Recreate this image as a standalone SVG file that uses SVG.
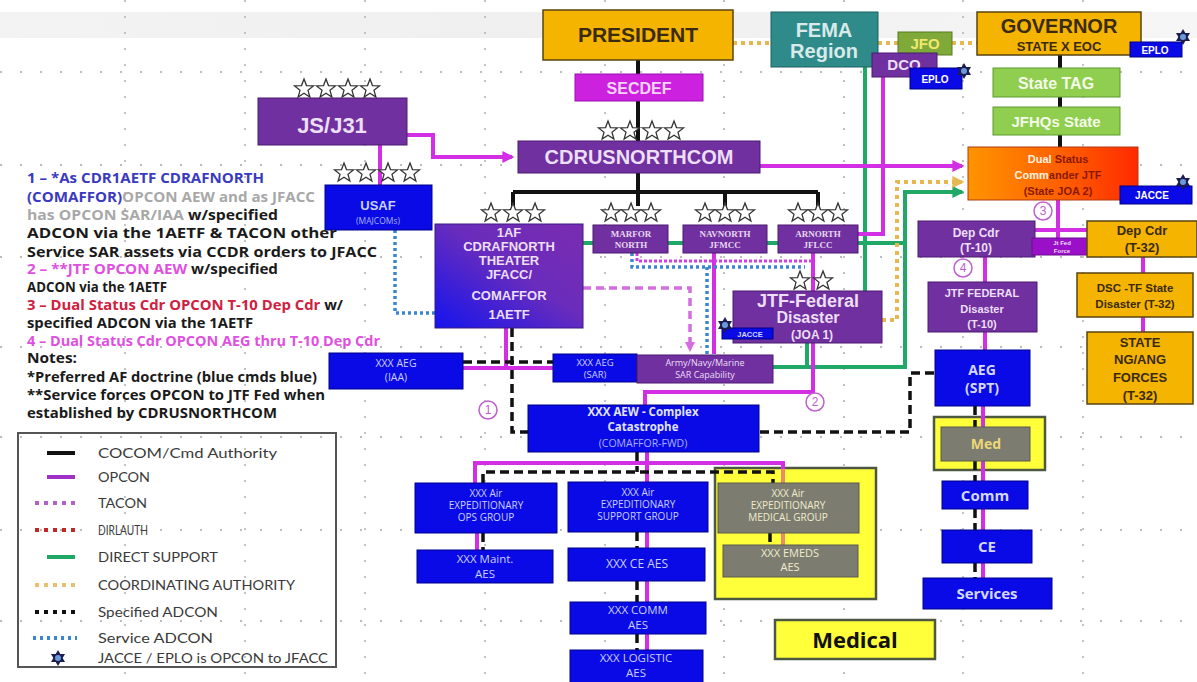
<svg xmlns="http://www.w3.org/2000/svg" xmlns:xlink="http://www.w3.org/1999/xlink" width="1197" height="682" viewBox="0 0 1197 682">
<defs>
<style>
.pu{fill:#7030a0;stroke:#4a1a70;stroke-width:1}
.bl{fill:#0a0ae6;stroke:#00008a;stroke-width:1}
.go{fill:#f5b400;stroke:#5a4410;stroke-width:1.5}
.lg{fill:#8fce4e;stroke:#5f9a2c;stroke-width:1}
.gy{fill:#7c7c70;stroke:#5a5a50;stroke-width:1}
.yl{fill:#ffff3a;stroke:#4d5840;stroke-width:2.5}
.t{font-family:"Liberation Sans",Arial,sans-serif;font-weight:bold;text-anchor:middle}
.o{font-family:"Open Sans","Liberation Sans",sans-serif;text-anchor:middle}
.s{font-family:"Liberation Serif","Times New Roman",serif;font-weight:bold;text-anchor:middle;fill:#e8d8f2}
.w{fill:#ecdff6}
.dk{fill:#3a2a10}
.k{stroke:#111;stroke-width:4;fill:none}
.m{stroke:#d22ee4;stroke-width:4;fill:none}
.g{stroke:#1fa866;stroke-width:4;fill:none}
.kd{stroke:#111;stroke-width:3.5;stroke-dasharray:9 5;fill:none}
.od{stroke:#e8b850;stroke-width:4;stroke-dasharray:4 4;fill:none}
.bd{stroke:#3a86d0;stroke-width:3.5;stroke-dasharray:3 3;fill:none}
.md{stroke:#d46ee0;stroke-width:3.5;stroke-dasharray:8 5;fill:none}
.grid{stroke:#bdbdbd;stroke-width:1.8;fill:none}
.note{font-family:"Open Sans","Liberation Sans",sans-serif;font-weight:bold;font-size:13.5px}
.leg{font-family:Lato,"Open Sans",sans-serif;font-size:14px;fill:#3a3a3a}
.num{fill:#fff;stroke:#c060d0;stroke-width:1.5}
.numt{font-family:"Liberation Sans",Arial,sans-serif;font-size:12px;fill:#c060d0;text-anchor:middle}
</style>
<linearGradient id="band" x1="0" y1="0" x2="1" y2="0"><stop offset="0" stop-color="#f3f3f3"/><stop offset="0.5" stop-color="#efefef"/><stop offset="1" stop-color="#f6f6f6"/></linearGradient>
<linearGradient id="g1af" x1="1" y1="0" x2="0" y2="1"><stop offset="0" stop-color="#7a2cb0"/><stop offset="0.45" stop-color="#6a2cbc"/><stop offset="1" stop-color="#1414ee"/></linearGradient>
<linearGradient id="gds" x1="0" y1="0" x2="1" y2="0"><stop offset="0" stop-color="#ff9400"/><stop offset="0.6" stop-color="#ff5a00"/><stop offset="1" stop-color="#ff2a00"/></linearGradient>
<g id="star"><polygon points="0,-10 2.47,-3.4 9.51,-3.09 3.99,1.3 5.88,8.09 0,4.2 -5.88,8.09 -3.99,1.3 -9.51,-3.09 -2.47,-3.4" fill="#fff" stroke="#333" stroke-width="1.3"/></g>
<g id="jstar"><polygon points="0,-8 7,4 -7,4" fill="#1c1c50"/><polygon points="0,8 7,-4 -7,-4" fill="#1c1c50"/><circle r="3" fill="#6a9ad8"/></g>
<marker id="am" viewBox="0 0 10 10" refX="8" refY="5" markerWidth="3" markerHeight="3" orient="auto"><path d="M0,0 L10,5 L0,10 z" fill="#d22ee4"/></marker>
<marker id="ag" viewBox="0 0 10 10" refX="8" refY="5" markerWidth="3" markerHeight="3" orient="auto"><path d="M0,0 L10,5 L0,10 z" fill="#1fa866"/></marker>
<marker id="ao" viewBox="0 0 10 10" refX="8" refY="5" markerWidth="3" markerHeight="3" orient="auto"><path d="M0,0 L10,5 L0,10 z" fill="#e8b850"/></marker>
<marker id="amd" viewBox="0 0 10 10" refX="8" refY="5" markerWidth="3" markerHeight="3" orient="auto"><path d="M0,0 L10,5 L0,10 z" fill="#d46ee0"/></marker>
</defs>

<rect width="1197" height="682" fill="#fff"/>
<rect x="0" y="12" width="1197" height="26" fill="url(#band)"/>

<g id="grid">
<path class="grid" stroke-dasharray="2 18" d="M0,72H1197 M0,165H1197 M0,257H1197 M0,347H1197 M0,437H1197 M0,530H1197 M0,621H1197"/>
<path class="grid" stroke-dasharray="2 14" d="M125,0V682 M245,0V682 M365,0V682 M485,0V682 M605,0V682 M724,0V682 M844,0V682 M963,0V682 M1083,0V682"/>
</g>

<g id="containers">
<rect id="medgroup-frame" x="715" y="468" width="161" height="131" class="yl"/>
<rect id="med-frame" x="934" y="417" width="111" height="53" class="yl"/>
</g>

<g id="connectors">
<path class="k" d="M638,60V74 M638,101V141 M638,173V192 M513,192H818 M513,192V206 M638,192V206 M725,192V206 M818,192V206"/>
<path class="k" d="M1060,55V68 M1060,97V107 M1060,135V147"/>
<path class="g" d="M865,67V291"/>
<path class="g" d="M582,243H905"/>
<path class="g" d="M773,367H905V192H962" marker-end="url(#ag)"/>
<path class="g" d="M807,343V367"/>
<path class="od" d="M733,43H771 M878,43H898 M952,43H977"/>
<path class="od" d="M882,320H897V182H962" marker-end="url(#ao)"/>
<path class="m" d="M407,135H433V157H512" marker-end="url(#am)"/>
<path class="m" d="M380,145V185"/>
<path class="m" d="M760,166H962" marker-end="url(#am)"/>
<path class="m" d="M883,77V234H858"/>
<path class="m" d="M813,253V291 M813,343V392H645V405"/>
<path class="m" d="M714,253V354"/>
<path d="M637,253V261H813" stroke="#d040e0" stroke-width="3" stroke-dasharray="3 2" fill="none"/>
<path class="bd" stroke-width="3" d="M632,253V267H805 M707,267V354"/>
<path class="m" d="M506,328V368 M463,368H553"/>
<path class="m" d="M1058,200V238 M1035,230H1087"/>
<path class="m" d="M985,257V282 M985,332V350 M983,406V578"/>
<path class="m" d="M1143,257V273 M1143,317V332"/>
<path class="m" d="M647,452V650"/>
<path class="m" d="M475,483V463H783V469 M477,533V550"/>
<path stroke="#ec8a6a" stroke-width="4" fill="none" d="M783,469V483 M783,533V545"/>
<path class="md" d="M583,288H690V350" marker-end="url(#amd)"/>
<path class="bd" d="M395,230V313H435"/>
<path class="kd" d="M512,328V432H528"/>
<path class="kd" d="M463,362H553"/>
<path class="kd" d="M760,432H910V373H935"/>
<path class="kd" d="M637,452V472 M483,483V472H773V483"/>
<path class="kd" d="M483,533V550 M637,532V548 M637,581V602 M637,634V650 M770,533V545"/>
<path class="kd" d="M975,406V427 M975,461V481 M975,509V530 M975,563V578"/>
</g>

<g id="president"><rect x="543" y="10" width="190" height="50" class="go"/><text x="638" y="42" class="t dk" font-size="21">PRESIDENT</text></g>
<g id="secdef"><rect x="575" y="74" width="128" height="27" fill="#cc22e0" stroke="#9a10b0"/><text x="639" y="94" class="t" font-size="16" fill="#f4d4f8">SECDEF</text></g>
<g id="cdrusnorthcom"><rect x="518" y="141" width="242" height="32" class="pu"/><text x="639" y="164" class="t w" font-size="20">CDRUSNORTHCOM</text>
<use href="#star" x="608" y="131"/><use href="#star" x="630" y="131"/><use href="#star" x="652" y="131"/><use href="#star" x="674" y="131"/></g>
<g id="jsj31"><rect x="258" y="98" width="149" height="47" class="pu"/><text x="332" y="133" class="t w" font-size="22">JS/J31</text>
<use href="#star" x="304" y="89"/><use href="#star" x="326" y="89"/><use href="#star" x="348" y="89"/><use href="#star" x="370" y="89"/></g>
<g id="fema"><rect x="771" y="12" width="107" height="55" fill="#2f8a8a" stroke="#1e6060"/><text x="824" y="37" class="t" font-weight="normal" font-size="20" fill="#d8eaea">FEMA</text><text x="824" y="58" class="t" font-weight="normal" font-size="20" fill="#d8eaea">Region</text></g>
<g id="jfo"><rect x="898" y="32" width="54" height="23" fill="#7faa3a" stroke="#5a7a20"/><text x="925" y="49" class="t" font-weight="normal" font-size="15" fill="#f0e870">JFO</text></g>
<g id="dco"><rect x="872" y="53" width="65" height="24" class="pu"/><text x="904" y="70" class="t w" font-weight="normal" font-size="15">DCO</text></g>
<g id="eplo1"><rect x="910" y="68" width="52" height="21" class="bl"/><text x="935" y="83" class="t" font-size="10" fill="#fff">EPLO</text><use href="#jstar" x="964" y="71"/></g>
<g id="governor"><rect x="977" y="12" width="164" height="43" class="go"/><text x="1059" y="33" class="t dk" font-size="20">GOVERNOR</text><text x="1059" y="51" class="t dk" font-size="13">STATE X EOC</text></g>
<g id="eplo2"><rect x="1130" y="42" width="52" height="15" class="bl"/><text x="1155" y="54" class="t" font-size="10" fill="#fff">EPLO</text><use href="#jstar" x="1183" y="37"/></g>
<g id="statetag"><rect x="993" y="68" width="127" height="29" class="lg"/><text x="1056" y="89" class="t" font-size="16" fill="#f4fbe8">State TAG</text></g>
<g id="jfhqs"><rect x="993" y="107" width="127" height="28" class="lg"/><text x="1056" y="127" class="t" font-size="15" fill="#f4fbe8">JFHQs State</text></g>
<g id="dualstatus"><rect x="968" y="147" width="170" height="53" fill="url(#gds)" stroke="#b03a10"/>
<text x="1058" y="163" class="t" font-size="11"><tspan fill="#fff2e0">Dual </tspan><tspan fill="#8a1800">Status</tspan></text>
<text x="1058" y="179" class="t" font-size="11"><tspan fill="#fff2e0">Comm</tspan><tspan fill="#8a1800">ander JTF</tspan></text>
<text x="1058" y="195" class="t" font-size="11" fill="#8a1800">(State JOA 2)</text></g>
<g id="jacce1"><rect x="1120" y="186" width="72" height="18" class="bl"/><text x="1152" y="199" class="t" font-size="10" fill="#fff">JACCE</text><use href="#jstar" x="1183" y="182"/></g>
<g id="depcdr10"><rect x="918" y="221" width="117" height="36" class="pu"/><text x="976" y="237" class="t w" font-size="12">Dep Cdr</text><text x="976" y="252" class="t w" font-size="12">(T-10)</text></g>
<g id="jtfedforce"><rect x="1032" y="238" width="61" height="17" fill="#9a10c8" stroke="#6a0a90"/><text x="1062" y="245" class="t w" font-size="6">Jt Fed</text><text x="1062" y="253" class="t w" font-size="6">Force</text></g>
<g id="depcdr32"><rect x="1087" y="221" width="110" height="36" class="go"/><text x="1142" y="235" class="t dk" font-size="13">Dep Cdr</text><text x="1142" y="252" class="t dk" font-size="13">(T-32)</text></g>
<g id="jtffed10"><rect x="928" y="282" width="109" height="50" class="pu"/><text x="982" y="297" class="t w" font-size="11">JTF  FEDERAL</text><text x="982" y="313" class="t w" font-size="11">Disaster</text><text x="982" y="328" class="t w" font-size="11">(T-10)</text></g>
<g id="dsctf"><rect x="1077" y="273" width="116" height="44" class="go"/><text x="1135" y="292" class="t dk" font-size="11.5">DSC -TF State</text><text x="1135" y="308" class="t dk" font-size="11.5">Disaster  (T-32)</text></g>
<g id="stateng"><rect x="1087" y="332" width="106" height="72" class="go"/><text x="1140" y="347" class="t dk" font-size="13">STATE</text><text x="1140" y="364" class="t dk" font-size="13">NG/ANG</text><text x="1140" y="382" class="t dk" font-size="13">FORCES</text><text x="1140" y="400" class="t dk" font-size="13">(T-32)</text></g>
<g id="aegspt"><rect x="935" y="350" width="95" height="56" class="bl"/><text x="982" y="375" class="o" font-weight="bold" font-size="14" fill="#d4d8ff">AEG</text><text x="982" y="393" class="o" font-weight="bold" font-size="14" fill="#d4d8ff">(SPT)</text></g>
<g id="med"><rect x="941" y="427" width="89" height="34" class="gy"/><text x="986" y="449" class="o" font-weight="bold" font-size="14" fill="#ecd878">Med</text></g>
<g id="comm"><rect x="942" y="481" width="86" height="28" class="bl"/><text x="985" y="501" class="o" font-weight="bold" font-size="15" fill="#d4d8ff">Comm</text></g>
<g id="ce"><rect x="942" y="530" width="90" height="33" class="bl"/><text x="987" y="552" class="o" font-weight="bold" font-size="15" fill="#d4d8ff">CE</text></g>
<g id="services"><rect x="923" y="578" width="129" height="31" class="bl"/><text x="987" y="599" class="o" font-weight="bold" font-size="15" fill="#d4d8ff">Services</text></g>
<g id="medical"><rect x="775" y="620" width="160" height="39" fill="#ffff3a" stroke="#4d5840" stroke-width="2.5"/><text x="855" y="648" class="o" font-weight="bold" font-size="22" fill="#111">Medical</text></g>

<g id="usaf"><rect x="325" y="185" width="107" height="45" class="bl"/><text x="378" y="210" class="t" font-size="13" fill="#c8d4ff">USAF</text><text x="378" y="224" class="o" font-size="8.5" fill="#a8b4ff">(MAJCOMs)</text>
<use href="#star" x="344" y="173"/><use href="#star" x="366" y="173"/><use href="#star" x="388" y="173"/><use href="#star" x="410" y="173"/></g>
<g id="af1"><rect x="435" y="224" width="148" height="104" fill="url(#g1af)" stroke="#3a1a80"/>
<text x="509" y="237" class="t w" font-size="13">1AF</text><text x="509" y="251" class="t w" font-size="13">CDRAFNORTH</text>
<text x="509" y="265" class="t w" font-size="13">THEATER</text><text x="509" y="279" class="t w" font-size="13">JFACC/</text>
<text x="509" y="300" class="t w" font-size="13">COMAFFOR</text><text x="509" y="319" class="t w" font-size="13">1AETF</text>
<use href="#star" x="491" y="213"/><use href="#star" x="513" y="213"/><use href="#star" x="535" y="213"/></g>
<g id="marfor"><rect x="593" y="225" width="75" height="28" class="pu"/><text x="631" y="237" class="s" font-size="9">MARFOR</text><text x="631" y="248" class="s" font-size="9">NORTH</text>
<use href="#star" x="611" y="213"/><use href="#star" x="631" y="213"/><use href="#star" x="651" y="213"/></g>
<g id="navnorth"><rect x="683" y="225" width="84" height="28" class="pu"/><text x="725" y="237" class="s" font-size="9">NAVNORTH</text><text x="725" y="248" class="s" font-size="9">JFMCC</text>
<use href="#star" x="705" y="213"/><use href="#star" x="725" y="213"/><use href="#star" x="745" y="213"/></g>
<g id="arnorth"><rect x="778" y="225" width="80" height="28" class="pu"/><text x="818" y="237" class="s" font-size="9">ARNORTH</text><text x="818" y="248" class="s" font-size="9">JFLCC</text>
<use href="#star" x="798" y="213"/><use href="#star" x="818" y="213"/><use href="#star" x="838" y="213"/></g>
<g id="jtffederal"><rect x="733" y="291" width="149" height="52" class="pu"/><text x="808" y="307" class="t w" font-size="18">JTF-Federal</text><text x="808" y="323" class="t w" font-weight="normal" font-size="16">Disaster</text><text x="812" y="339" class="t w" font-size="12">(JOA 1)</text>
<use href="#star" x="800" y="281"/><use href="#star" x="823" y="281"/>
<rect x="722" y="328" width="51" height="11" class="bl"/><text x="750" y="337" class="t" font-size="7.5" fill="#d4d8ff">JACCE</text><use href="#jstar" x="725" y="325"/></g>
<g id="aegiaa"><rect x="329" y="353" width="134" height="36" class="bl"/><text x="396" y="367" class="o" font-size="10.5" fill="#c8d0ff">XXX AEG</text><text x="396" y="381" class="o" font-size="10.5" fill="#c8d0ff">(IAA)</text></g>
<g id="aegsar"><rect x="553" y="354" width="84" height="28" class="bl"/><text x="595" y="366" class="o" font-size="9.5" fill="#c8d0ff">XXX AEG</text><text x="595" y="378" class="o" font-size="9.5" fill="#c8d0ff">(SAR)</text></g>
<g id="sarcap"><rect x="637" y="355" width="136" height="28" class="pu"/><text x="705" y="366" class="o w" font-size="9">Army/Navy/Marine</text><text x="705" y="378" class="o w" font-size="9">SAR Capability</text></g>
<g id="aew"><rect x="528" y="405" width="231" height="47" class="bl"/><text x="643" y="416" class="o" font-weight="bold" font-size="11.5" fill="#e0e4ff">XXX AEW - Complex</text><text x="643" y="431" class="o" font-weight="bold" font-size="11.5" fill="#e0e4ff">Catastrophe</text><text x="643" y="447" class="o" font-size="10.5" fill="#a8b0ff">(COMAFFOR-FWD)</text></g>
<g id="opsgroup"><rect x="415" y="483" width="142" height="50" class="bl"/><text x="486" y="497" class="o" font-size="10" fill="#c8d0ff">XXX Air</text><text x="486" y="509" class="o" font-size="10" fill="#c8d0ff">EXPEDITIONARY</text><text x="486" y="521" class="o" font-size="10" fill="#c8d0ff">OPS GROUP</text></g>
<g id="supportgroup"><rect x="568" y="482" width="140" height="50" class="bl"/><text x="638" y="496" class="o" font-size="10" fill="#c8d0ff">XXX Air</text><text x="638" y="508" class="o" font-size="10" fill="#c8d0ff">EXPEDITIONARY</text><text x="638" y="520" class="o" font-size="10" fill="#c8d0ff">SUPPORT GROUP</text></g>
<g id="maintaes"><rect x="417" y="550" width="136" height="33" class="bl"/><text x="485" y="563" class="o" font-size="11.5" fill="#c8d0ff">XXX  Maint.</text><text x="485" y="578" class="o" font-size="11.5" fill="#c8d0ff">AES</text></g>
<g id="ceaes"><rect x="568" y="548" width="137" height="33" class="bl"/><text x="637" y="568" class="o" font-size="12" fill="#c8d0ff">XXX CE  AES</text></g>
<g id="commaes"><rect x="570" y="602" width="136" height="32" class="bl"/><text x="638" y="614" class="o" font-size="11.5" fill="#c8d0ff">XXX COMM</text><text x="638" y="629" class="o" font-size="11.5" fill="#c8d0ff">AES</text></g>
<g id="logaes"><rect x="570" y="650" width="133" height="34" class="bl"/><text x="636" y="662" class="o" font-size="11.5" fill="#c8d0ff">XXX LOGISTIC</text><text x="636" y="677" class="o" font-size="11.5" fill="#c8d0ff">AES</text></g>
<g id="medgroup"><rect x="718" y="483" width="141" height="50" class="gy"/><text x="788" y="497" class="o" font-size="10" fill="#f0eccc">XXX  Air</text><text x="788" y="509" class="o" font-size="10" fill="#f0eccc">EXPEDITIONARY</text><text x="788" y="521" class="o" font-size="10" fill="#f0eccc">MEDICAL GROUP</text></g>
<g id="emeds"><rect x="723" y="545" width="135" height="32" class="gy"/><text x="790" y="557" class="o" font-size="11" fill="#f0eccc">XXX EMEDS</text><text x="790" y="571" class="o" font-size="11" fill="#f0eccc">AES</text></g>

<g id="markers-num">
<circle cx="488" cy="410" r="9" class="num"/><text x="488" y="414" class="numt">1</text>
<circle cx="815" cy="402" r="9" class="num"/><text x="815" y="406" class="numt">2</text>
<circle cx="1043" cy="211" r="9" class="num"/><text x="1043" y="215" class="numt">3</text>
<circle cx="963" cy="268" r="9" class="num"/><text x="963" y="272" class="numt">4</text>
</g>

<g id="notes">
<text x="27" y="183" class="note" fill="#3a3ac0" textLength="237" lengthAdjust="spacingAndGlyphs">1 – *As CDR1AETF CDRAFNORTH</text>
<text x="27" y="202" class="note" textLength="288" lengthAdjust="spacingAndGlyphs"><tspan fill="#3a3ac0">(COMAFFOR)</tspan><tspan fill="#a8a8a8">OPCON AEW and as JFACC</tspan></text>
<text x="27" y="220" class="note" textLength="251" lengthAdjust="spacingAndGlyphs"><tspan fill="#a8a8a8">has OPCON SAR/IAA</tspan><tspan fill="#1a1a1a"> w/specified</tspan></text>
<text x="27" y="238" class="note" fill="#1a1a1a" textLength="310" lengthAdjust="spacingAndGlyphs">ADCON  via the 1AETF &amp; TACON other</text>
<text x="27" y="257" class="note" fill="#1a1a1a" textLength="350" lengthAdjust="spacingAndGlyphs">Service SAR assets via CCDR orders to JFACC</text>
<text x="27" y="274" class="note" textLength="251" lengthAdjust="spacingAndGlyphs"><tspan fill="#e050e0">2 – **JTF OPCON AEW</tspan><tspan fill="#1a1a1a"> w/specified</tspan></text>
<text x="27" y="292" class="note" fill="#1a1a1a" textLength="140" lengthAdjust="spacingAndGlyphs">ADCON  via the 1AETF</text>
<text x="27" y="310" class="note" textLength="316" lengthAdjust="spacingAndGlyphs"><tspan fill="#d02040">3 – Dual Status Cdr OPCON T-10 Dep Cdr</tspan><tspan fill="#1a1a1a"> w/</tspan></text>
<text x="27" y="328" class="note" fill="#1a1a1a" textLength="226" lengthAdjust="spacingAndGlyphs">specified ADCON via the 1AETF</text>
<text x="27" y="346" class="note" fill="#e050e0" textLength="353" lengthAdjust="spacingAndGlyphs">4 – Dual Status Cdr OPCON AEG thru T-10 Dep Cdr</text>
<text x="27" y="363" class="note" fill="#1a1a1a" textLength="50" lengthAdjust="spacingAndGlyphs">Notes:</text>
<text x="27" y="382" class="note" fill="#1a1a1a" textLength="290" lengthAdjust="spacingAndGlyphs">*Preferred AF doctrine (blue cmds blue)</text>
<text x="27" y="400" class="note" fill="#1a1a1a" textLength="298" lengthAdjust="spacingAndGlyphs">**Service forces OPCON to JTF Fed when</text>
<text x="27" y="418" class="note" fill="#1a1a1a" textLength="250" lengthAdjust="spacingAndGlyphs">established by CDRUSNORTHCOM</text>
</g>

<g id="legend">
<rect x="18" y="433" width="318" height="234" fill="none" stroke="#555" stroke-width="2"/>
<path d="M47,453H75" stroke="#111" stroke-width="4"/>
<path d="M47,477H75" stroke="#a030c8" stroke-width="4"/>
<path d="M35,503H75" stroke="#b060c8" stroke-width="4" stroke-dasharray="4 5"/>
<path d="M35,530H75" stroke="#c02828" stroke-width="4" stroke-dasharray="4 5"/>
<path d="M47,557H75" stroke="#1fa866" stroke-width="4"/>
<path d="M35,585H75" stroke="#e8c070" stroke-width="4" stroke-dasharray="4 5"/>
<path d="M35,612H75" stroke="#111" stroke-width="4" stroke-dasharray="4 5"/>
<path d="M33,638H77" stroke="#3a86d0" stroke-width="4" stroke-dasharray="3 4"/>
<use href="#jstar" x="58" y="658"/>
<text x="98" y="458" class="leg" textLength="179" lengthAdjust="spacingAndGlyphs">COCOM/Cmd Authority</text>
<text x="98" y="482" class="leg" textLength="52" lengthAdjust="spacingAndGlyphs">OPCON</text>
<text x="98" y="508" class="leg" textLength="49" lengthAdjust="spacingAndGlyphs">TACON</text>
<text x="98" y="535" class="leg" textLength="50" lengthAdjust="spacingAndGlyphs">DIRLAUTH</text>
<text x="98" y="562" class="leg" textLength="120" lengthAdjust="spacingAndGlyphs">DIRECT SUPPORT</text>
<text x="98" y="590" class="leg" textLength="197" lengthAdjust="spacingAndGlyphs">COORDINATING AUTHORITY</text>
<text x="98" y="617" class="leg" textLength="120" lengthAdjust="spacingAndGlyphs">Specified ADCON</text>
<text x="98" y="643" class="leg" textLength="115" lengthAdjust="spacingAndGlyphs">Service ADCON</text>
<text x="98" y="663" class="leg" textLength="230" lengthAdjust="spacingAndGlyphs">JACCE / EPLO is OPCON to JFACC</text>
</g>
</svg>
